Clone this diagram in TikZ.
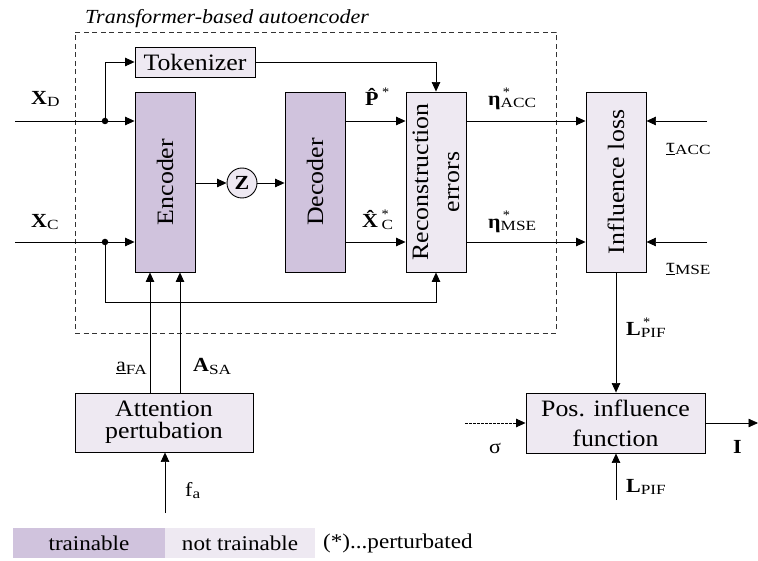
\documentclass[tikz,border=0pt]{standalone}
\usepackage{fontspec}
\setmainfont[FakeStretch=1.1]{Liberation Serif}
\usetikzlibrary{arrows.meta}
\definecolor{trainc}{RGB}{208,195,221}
\definecolor{ntrainc}{RGB}{238,233,242}
\newcommand{\subtxt}[1]{\scalebox{1.12}[1]{\fontsize{14}{14}\selectfont #1}}
\newcommand{\supsub}[2]{\rlap{\raisebox{9pt}{\fontsize{13}{13}\selectfont #1}}\raisebox{-2pt}{\subtxt{#2}}}
\begin{document}
\begin{tikzpicture}[x=1pt,y=-1pt,
 every node/.style={font=\fontsize{23.5}{22}\selectfont},
 blk/.style={draw, line width=0.9pt, inner sep=0pt, align=center},
 trainbox/.style={blk, fill=trainc, minimum width=60pt, minimum height=180pt},
 ntrainbox/.style={blk, fill=ntrainc},
 vtext/.style={rotate=90, inner sep=0pt, align=center},
 arr/.style={-{Triangle[length=9.5pt,width=8.5pt]}, line width=0.7pt},
 lab/.style={anchor=base west, inner sep=0pt, font=\fontsize{20}{20}\selectfont},
 jdot/.style={circle, fill, inner sep=0pt, minimum size=6.5pt}
]
\useasboundingbox (0,0) rectangle (758,561);

% autoencoder frame
\node (ae) [draw, black!80, dash pattern=on 5pt off 3.5pt, line width=0.8pt,
  minimum width=481pt, minimum height=301pt, inner sep=0pt] at (315.5,182.5) {};
\node (aet) [anchor=base west, inner sep=0pt, font=\fontsize{20}{20}\selectfont\itshape]
  at (85,24) {Transformer-based autoencoder};

% blocks
\node[ntrainbox, minimum width=120pt, minimum height=30pt] (tok) at (195,62) {Tokenizer};
\node[trainbox] (enc) at (165,182) {};
\node[vtext] (enct) at (enc) {Encoder};
\node[trainbox] (dec) at (315,182) {};
\node[vtext] (dect) at (dec) {Decoder};
\node[ntrainbox, minimum width=60pt, minimum height=180pt] (rec) at (436,182) {};
\node[vtext, font=\fontsize{23.5}{31}\selectfont] (rect) at (rec) {Reconstruction\\errors};
\node[ntrainbox, minimum width=60pt, minimum height=180pt] (inf) at (616,182) {};
\node[vtext] (inft) at (inf) {Influence loss};
\node[draw, circle, fill=ntrainc, line width=0.9pt, minimum size=30pt, inner sep=0pt,
  font=\fontsize{20}{20}\selectfont\bfseries] (z) at (242,183) {Z};
\node[ntrainbox, minimum width=178pt, minimum height=59pt, font=\fontsize{23.5}{22}\selectfont]
  (att) at (164,422.5) {Attention\\pertubation};
\node[ntrainbox, minimum width=179pt, minimum height=60pt, font=\fontsize{23.5}{30}\selectfont]
  (pif) at (615.5,423) {Pos. influence\\function};

% coordinates
\coordinate (xdin) at (15,121);
\coordinate (xdj) at (105,121);
\coordinate (xcin) at (15,242);
\coordinate (xcj) at (105,242);
\coordinate (xcb) at (105,302);
\coordinate (tacc) at (707,121);
\coordinate (tmse) at (707,242);
\coordinate (sig) at (465,423);
\coordinate (iout) at (758,423);
\coordinate (lpif) at (616,500);
\coordinate (fa) at (165,513);

% connectors
\draw[arr] (xdin) -- (xdin -| enc.west);
\node[jdot] (dd) at (xdj) {};
\draw[arr] (dd.center) |- (tok.west);
\draw[arr] (tok.east) -| (rec.north);
\draw[arr] (xcin) -- (xcin -| enc.west);
\node[jdot] (dc) at (xcj) {};
\draw[arr] (dc.center) -- (xcb) -| (rec.south);
\draw[arr] (enc.east |- z) -- (z.west);
\draw[arr] (z.east) -- (z -| dec.west);
\draw[arr] (dec.east |- xdj) -- (rec.west |- xdj);
\draw[arr] (dec.east |- xcj) -- (rec.west |- xcj);
\draw[arr] (rec.east |- xdj) -- (inf.west |- xdj);
\draw[arr] (rec.east |- xcj) -- (inf.west |- xcj);
\draw[arr] (tacc) -- (inf.east |- tacc);
\draw[arr] (tmse) -- (inf.east |- tmse);
\draw[arr] (inf.south) -- (inf.south |- pif.north);
\draw[arr, dash pattern=on 2.5pt off 1.5pt] (sig) -- (pif.west);
\draw[arr] (pif.east) -- (iout);
\draw[arr] (lpif) -- (lpif |- pif.south);
\draw[arr] ([xshift=-15pt]enc.south |- att.north) -- ([xshift=-15pt]enc.south);
\draw[arr] ([xshift=15pt]enc.south |- att.north) -- ([xshift=15pt]enc.south);
\draw[arr] (fa) -- (fa |- att.south);

% labels
\node[lab] (lxd) at (31,105) {\textbf{X}\supsub{}{D}};
\node[lab] (lxc) at (31,228) {\textbf{X}\supsub{}{C}};
\node[lab] (lph) at (365,106) {\textbf{P̂}\raisebox{9pt}{\fontsize{13}{13}\selectfont *}};
\node[lab] (lxh) at (362,228) {\textbf{X̂}\supsub{*}{C}};
\node[lab] (lea) at (488,106) {\textbf{η}\supsub{\,*}{ACC}};
\node[lab] (lem) at (488,229) {\textbf{η}\supsub{\,*}{MSE}};
\node[lab] (lta) at (666,153) {\underline{τ}\supsub{}{ACC}};
\node[lab] (ltm) at (666,273) {\underline{τ}\supsub{}{MSE}};
\node[lab] (llp) at (626,336) {\textbf{L}\supsub{\,*}{PIF}};
\node[lab] (llq) at (626,492) {\textbf{L}\supsub{}{PIF}};
\node[lab] (lafa) at (116,372) {\underline{a}\supsub{}{FA}};
\node[lab] (lasa) at (193,372) {\textbf{A}\supsub{}{SA}};
\node[lab] (lfa) at (185,496) {f\supsub{}{a}};
\node[lab] (lsig) at (489,453) {σ};
\node[lab] (li) at (733,453) {\textbf{I}};

% legend
\node[fill=trainc, minimum width=152pt, minimum height=30pt, inner sep=0pt,
  font=\fontsize{21}{21}\selectfont] (lt) at (89,543) {trainable};
\node[fill=ntrainc, minimum width=150pt, minimum height=30pt, inner sep=0pt,
  font=\fontsize{21}{21}\selectfont] (lnt) at (240,543) {not trainable};
\node[anchor=west, inner sep=0pt, font=\fontsize{21}{21}\selectfont] (lpt) at (323,543) {(*)...perturbated};
\end{tikzpicture}
\end{document}
